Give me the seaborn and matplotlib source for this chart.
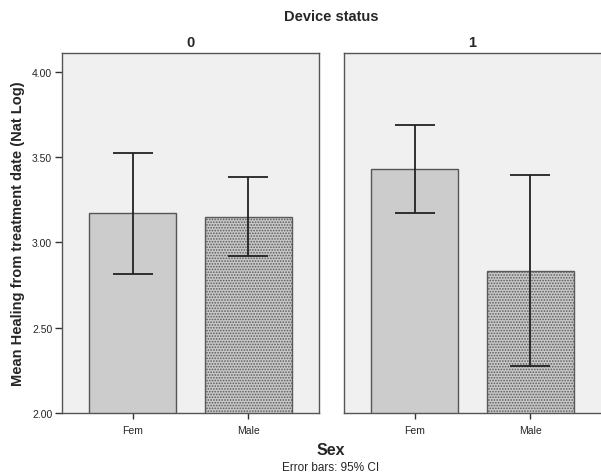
import matplotlib
matplotlib.use("Agg")
import matplotlib.pyplot as plt
import seaborn as sns
import pandas as pd
import numpy as np

statuses = ["0", "1"]
sexes = ["Fem", "Male"]
means = {"0": [3.17, 3.15], "1": [3.43, 2.835]}
ci_low = {"0": [2.815, 2.92], "1": [3.17, 2.275]}
ci_high = {"0": [3.525, 3.385], "1": [3.69, 3.395]}
yticks = [2.00, 2.50, 3.00, 3.50, 4.00]

sns.set_style("white")
plt.rcParams['font.family'] = ['Liberation Sans', 'DejaVu Sans']
plt.rcParams['hatch.linewidth'] = 0.8

fig = plt.figure(figsize=(6.01, 4.77), dpi=100)
W, H = 601, 477
axes = [fig.add_axes([62 / W, 1 - 414 / H, 257 / W, 360 / H]),
        fig.add_axes([344 / W, 1 - 414 / H, 257 / W, 360 / H])]

for ax, st in zip(axes, statuses):
    df = pd.DataFrame({"Sex": sexes, "Mean": means[st]})
    sns.barplot(data=df, x="Sex", y="Mean", order=sexes, ax=ax, width=0.757,
                errorbar=None, color="#cccccc", edgecolor="#555555", linewidth=1.0)
    patches = ax.patches
    patches[1].set_hatch("......")
    patches[1].set_facecolor("#c8c8c8")
    patches[1].set_edgecolor("#5a5a5a")
    m = np.array(means[st])
    lo = np.array(ci_low[st])
    hi = np.array(ci_high[st])
    ax.errorbar([0, 1], m, yerr=[m - lo, hi - m], fmt="none", ecolor="#222222",
                elinewidth=1.3, capsize=14.5, capthick=1.3)
    ax.set_facecolor("#f0f0f0")
    ax.set_xlim(-0.613, 1.613)
    ax.set_ylim(2.0, 4.11)
    ax.set_xlabel("")
    ax.set_ylabel("")
    ax.tick_params(axis="x", length=4, width=1, color="#333333", labelsize=7.5, direction="out", bottom=True, pad=5)
    for s in ax.spines.values():
        s.set_color("#555555")
        s.set_linewidth(1.0)
    ax.set_title(st, fontsize=10.5, fontweight="bold", pad=5)

axes[0].set_yticks(yticks)
axes[0].set_yticklabels([f"{v:.2f}" for v in yticks])
axes[0].tick_params(axis="y", length=5, width=1, color="#333333", labelsize=7.5, direction="out", left=True, pad=2)
axes[1].set_yticks([])
axes[1].spines["right"].set_visible(False)
axes[0].set_ylabel("Mean Healing from treatment date (Nat Log)", fontsize=10.5, fontweight="bold", labelpad=5)

fig.text(331 / W, 1 - 17 / H, "Device status", ha="center", va="center", fontsize=10.5, fontweight="bold")
fig.text(331 / W, 1 - 451 / H, "Sex", ha="center", va="center", fontsize=11.5, fontweight="bold")
fig.text(331 / W, 1 - 468 / H, "Error bars: 95% CI", ha="center", va="center", fontsize=8.5)

fig.savefig("out.png", dpi=100, facecolor="white")
